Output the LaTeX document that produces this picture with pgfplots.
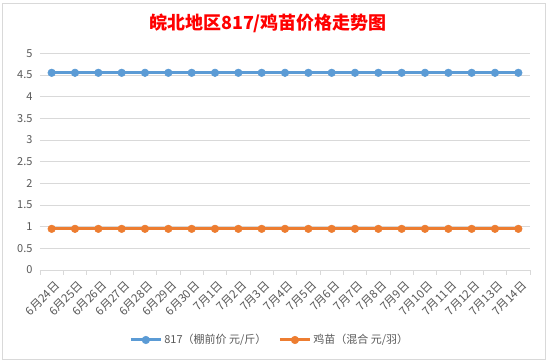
\documentclass[border=0pt]{standalone}
\usepackage{pgfplots}
\pgfplotsset{compat=1.18}
\usepackage{fontspec}
\setmainfont{Noto Sans CJK SC}
\definecolor{sblue}{HTML}{5B9BD5}
\definecolor{sorange}{HTML}{ED7D31}
\definecolor{gridc}{HTML}{D9D9D9}
\definecolor{txt}{HTML}{595959}
\begin{document}
\begin{tikzpicture}
\useasboundingbox (0pt,0pt) rectangle (548pt,363pt);
\fill[white] (0pt,0pt) rectangle (548pt,363pt);
\draw[gridc, line width=0.75pt] (2pt,4pt) rectangle (545pt,360pt);
\node[text=red, font=\fontsize{18}{21}\selectfont\bfseries] at (268pt,340pt) {皖北地区817/鸡苗价格走势图};
\begin{axis}[
  at={(40pt,93pt)}, anchor=south west,
  scale only axis, width=490pt, height=216.7pt,
  xmin=-0.5, xmax=20.5, ymin=0, ymax=5,
  ytick={0,0.5,1,1.5,2,2.5,3,3.5,4,4.5,5},
  yticklabels={0,0.5,1,1.5,2,2.5,3,3.5,4,4.5,5},
  xtick={0,...,20},
  xticklabels={6月24日,6月25日,6月26日,6月27日,6月28日,6月29日,6月30日,7月1日,7月2日,7月3日,7月4日,7月5日,7月6日,7月7日,7月8日,7月9日,7月10日,7月11日,7月12日,7月13日,7月14日},
  minor xtick={-0.5,0.5,...,20.5},
  major tick length=0pt, minor tick length=5pt,
  xtick align=outside,
  axis lines*=left,
  x axis line style={draw=gridc, line width=0.75pt},
  y axis line style={draw=none},
  minor tick style={draw=gridc, line width=0.75pt},
  major tick style={draw=none},
  ymajorgrids, grid style={draw=gridc, line width=0.75pt},
  tick label style={text=txt, font=\fontsize{11}{12}\selectfont},
  /pgf/number format/assume math mode=true,
  yticklabel style={xshift=-4pt},
  xticklabel style={rotate=45, anchor=east, yshift=-14pt, xshift=-2pt, font=\fontsize{11.5}{12}\selectfont},
  legend style={at={(0.469,-0.323)}, anchor=center, draw=none, fill=none,
    legend columns=2, font=\fontsize{11}{12}\selectfont, text=txt,
    /tikz/every even column/.append style={column sep=10pt}},
  legend image code/.code={
    \draw[#1, mark repeat=2, mark phase=2] plot coordinates {(0pt,0pt) (15pt,0pt) (30pt,0pt)};},
  clip=false,
]
\addplot[sblue, line width=3pt, mark=*, mark size=3.8pt, mark options={fill=sblue, draw=sblue, line width=0.5pt}] coordinates {
(0,4.55)(1,4.55)(2,4.55)(3,4.55)(4,4.55)(5,4.55)(6,4.55)(7,4.55)(8,4.55)(9,4.55)(10,4.55)
(11,4.55)(12,4.55)(13,4.55)(14,4.55)(15,4.55)(16,4.55)(17,4.55)(18,4.55)(19,4.55)(20,4.55)};
\addlegendentry{817（棚前价 元/斤）}
\addplot[sorange, line width=3pt, mark=*, mark size=3.8pt, mark options={fill=sorange, draw=sorange, line width=0.5pt}] coordinates {
(0,0.95)(1,0.95)(2,0.95)(3,0.95)(4,0.95)(5,0.95)(6,0.95)(7,0.95)(8,0.95)(9,0.95)(10,0.95)
(11,0.95)(12,0.95)(13,0.95)(14,0.95)(15,0.95)(16,0.95)(17,0.95)(18,0.95)(19,0.95)(20,0.95)};
\addlegendentry{鸡苗（混合 元/羽）}
\end{axis}
\end{tikzpicture}
\end{document}
